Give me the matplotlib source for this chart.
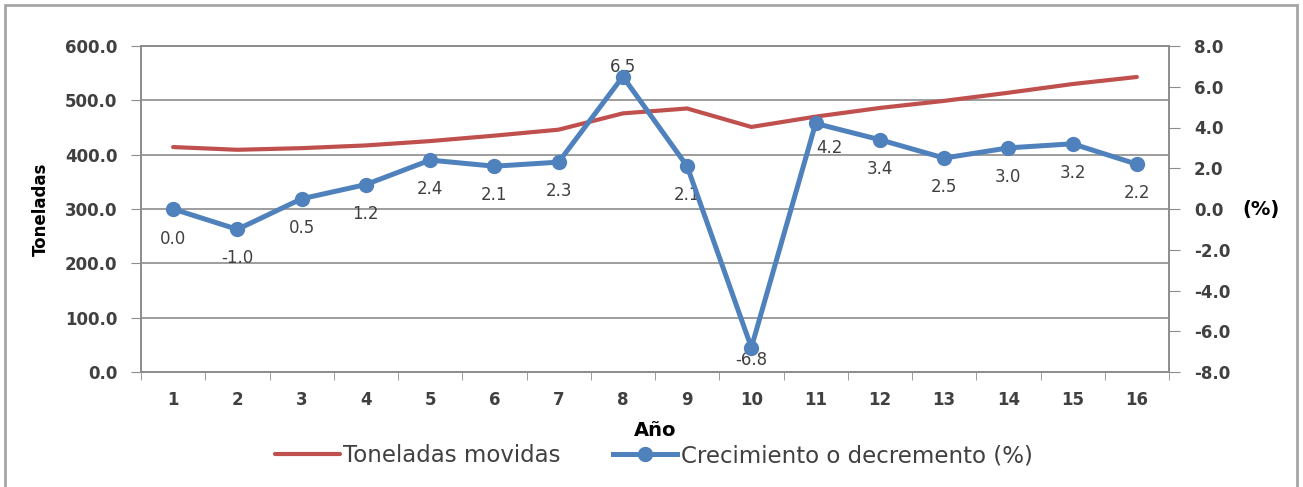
import matplotlib.pyplot as plt
from matplotlib.patches import Rectangle

# data
years = list(range(1, 17))
toneladas = [414, 409, 412, 417, 425, 435, 446, 476, 485, 451, 470, 486, 499, 514, 530, 543]
crecimiento = [0.0, -1.0, 0.5, 1.2, 2.4, 2.1, 2.3, 6.5, 2.1, -6.8, 4.2, 3.4, 2.5, 3.0, 3.2, 2.2]
# label offsets in pixels (dx, dy), excel style "below" mostly
label_offsets = [(0, -30), (0, -29), (0, -29), (0, -29), (0, -29), (0, -29), (0, -29), (0, 10),
                 (0, -29), (0, -12), (14, -25), (0, -29), (0, -29), (0, -29), (0, -29), (0, -29)]

red = '#C0504D'
blue = '#4F81BD'
grid_c = '#8C8C8C'
txt_c = '#404040'

plt.rcParams['font.family'] = ['DejaVu Sans']

fig = plt.figure(figsize=(13.03, 4.87), dpi=100)
ax = fig.add_axes([141 / 1303, 1 - 372 / 487, (1169 - 141) / 1303, (372 - 46) / 487])
ax2 = ax.twinx()

ax.plot(years, toneladas, color=red, linewidth=3, solid_capstyle='round', label='Toneladas movidas', zorder=3)
ax2.plot(years, crecimiento, color=blue, linewidth=3.6, marker='o', markersize=10,
         label='Crecimiento o decremento (%)', zorder=4)

for x, v, (dx, dy) in zip(years, crecimiento, label_offsets):
    ax2.annotate(f'{v:.1f}', (x, v), xytext=(dx, dy), textcoords='offset pixels',
                 ha='center', va='center', fontsize=12, color=txt_c)

ax.set_xlim(0.5, 16.5)
ax.set_ylim(0, 600)
ax2.set_ylim(-8, 8)
ax.set_yticks(range(0, 601, 100))
ax.set_yticklabels([f'{v:.1f}' for v in range(0, 601, 100)])
ax2.set_yticks(range(-8, 9, 2))
ax2.set_yticklabels([f'{v:.1f}' for v in range(-8, 9, 2)])
ax.set_xticks(years)
ax.set_xticks([y + 0.5 for y in range(0, 17)], minor=True)
ax.tick_params(axis='x', which='major', length=0, pad=14)
ax.tick_params(axis='x', which='minor', length=6, direction='out', color=grid_c)
ax.tick_params(axis='y', length=7, color=grid_c, pad=10)
ax2.tick_params(axis='y', length=8, color=grid_c, pad=10)

for a in (ax, ax2):
    for lab in a.get_yticklabels() + a.get_xticklabels():
        lab.set_fontweight('bold')
        lab.set_fontsize(12)
        lab.set_color(txt_c)
    for s in a.spines.values():
        s.set_color(grid_c)
        s.set_linewidth(1.2)

ax.grid(axis='y', color=grid_c, linewidth=1.2)
ax.set_axisbelow(True)

ax.set_ylabel('Toneladas', fontweight='bold', fontsize=12, color='black', labelpad=11)
ax.set_xlabel('Año', fontweight='bold', fontsize=14, color='black', labelpad=8)
ax2.set_ylabel('(%)', fontweight='bold', fontsize=14, color='black', rotation=0, va='center', labelpad=22)

h1, l1 = ax.get_legend_handles_labels()
h2, l2 = ax2.get_legend_handles_labels()
fig.legend(h1 + h2, l1 + l2, loc='center', bbox_to_anchor=(654 / 1303, 1 - 456 / 487), ncol=2,
           frameon=False, fontsize=16.5, handlelength=2.8, handletextpad=0.15, columnspacing=2.3,
           labelcolor=txt_c)

# outer chart border
fig.patches.append(Rectangle((5 / 1303, -0.1), 1292 / 1303, 1.1 - 5 / 487, transform=fig.transFigure,
                             fill=False, edgecolor='#A6A6A6', linewidth=2))

plt.savefig('out.png', dpi=100)
